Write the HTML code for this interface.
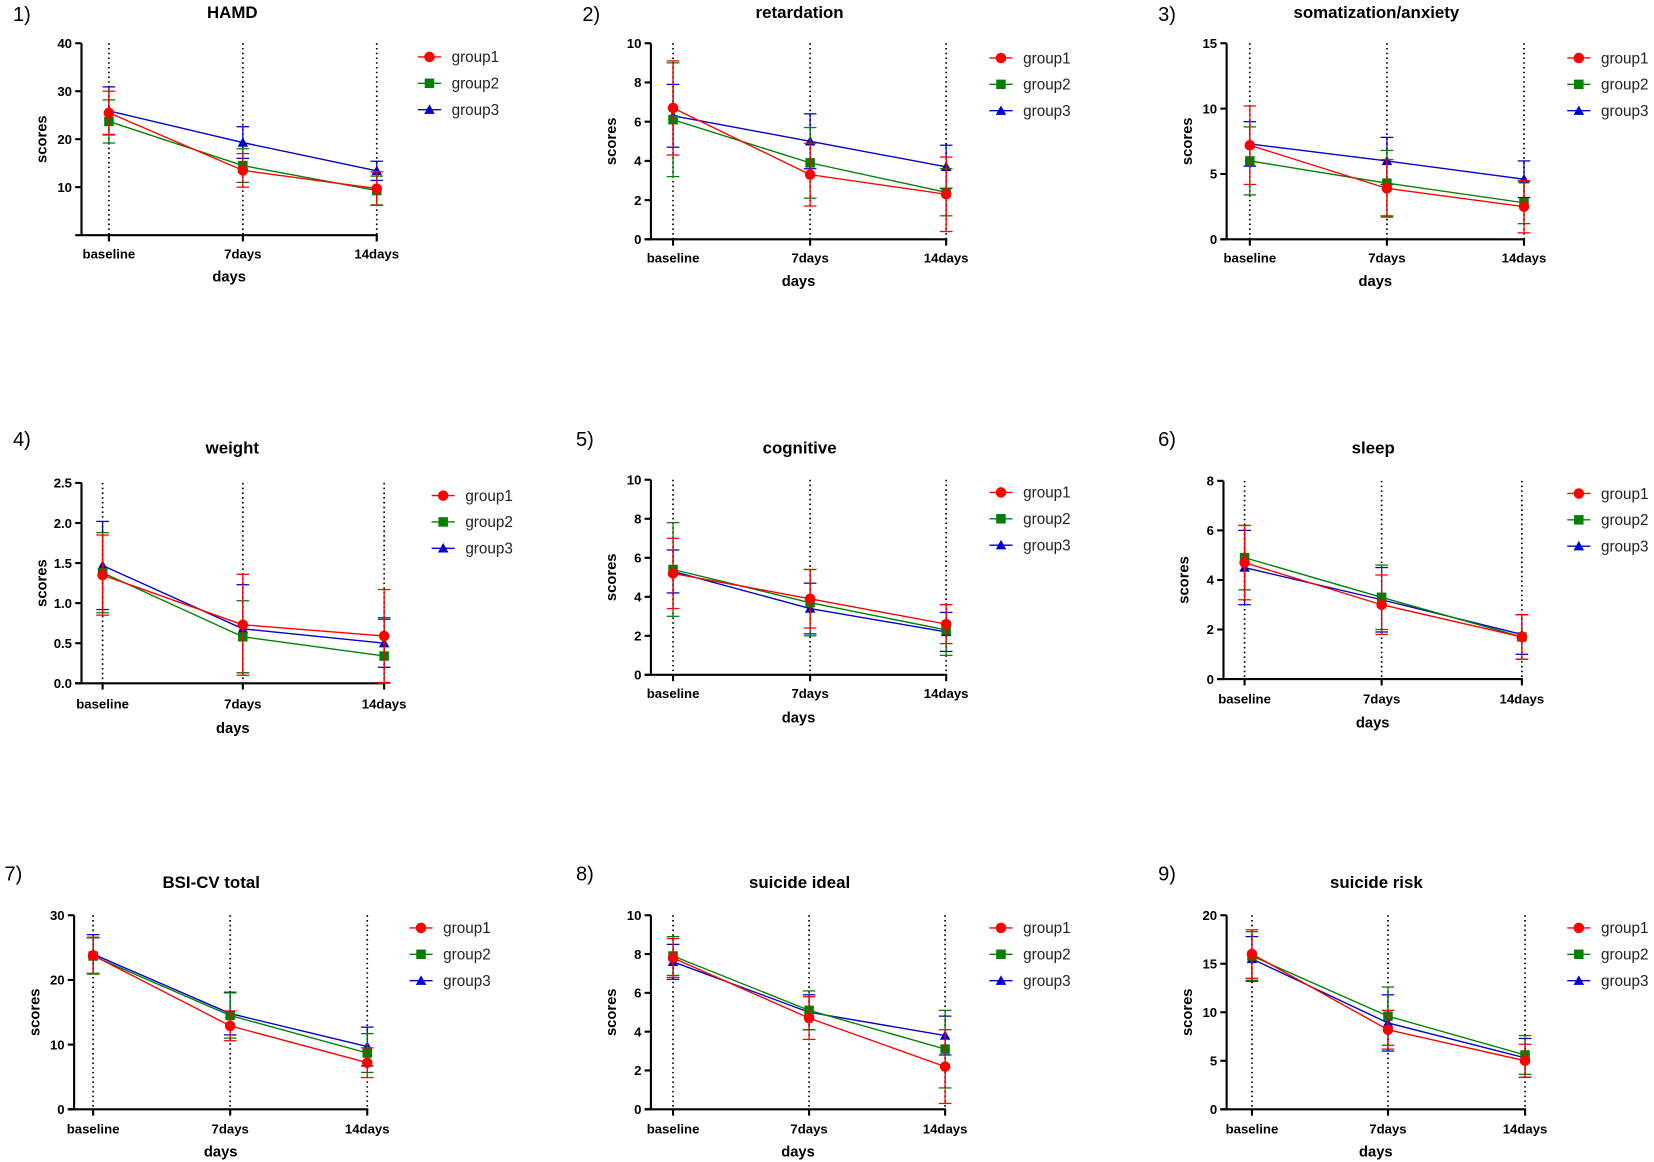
<!DOCTYPE html>
<html><head><meta charset="utf-8"><style>
html,body{margin:0;padding:0;background:#fff}
svg{display:block}
text{font-family:"Liberation Sans",Arial,sans-serif}
</style></head><body>
<svg id="fig" width="1654" height="1162" viewBox="0 0 1568 1102" xmlns="http://www.w3.org/2000/svg"></svg>
<script>
const categories = ["baseline","7days","14days"];
const groupNames = ["group1","group2","group3"];
const titles = ["HAMD","retardation","somatization/anxiety","weight","cognitive","sleep","BSI-CV total","suicide ideal","suicide risk"];
const yMaxes = [40,10,15,2.5,10,8,30,10,20];
const yTickSets = [[10,20,30,40],[0,2,4,6,8,10],[0,5,10,15],[0,0.5,1,1.5,2,2.5],[0,2,4,6,8,10],[0,2,4,6,8],[0,10,20,30],[0,2,4,6,8,10],[0,5,10,15,20]];
const means1 = [[25.5,13.5,9.7],[6.7,3.3,2.3],[7.2,3.9,2.5],[1.35,0.73,0.59],[5.2,3.9,2.6],[4.7,3.0,1.7],[23.8,12.9,7.2],[7.8,4.7,2.2],[16.0,8.2,5.0]];
const errs1  = [[4.5,3.5,3.5],[2.4,1.6,1.9],[3,2.2,2],[0.5,0.63,0.58],[1.8,1.5,1.0],[1.5,1.2,0.9],[2.8,2.3,2.3],[1.0,1.1,1.9],[2.5,2.0,1.7]];
const means2 = [[23.7,14.5,9.3],[6.1,3.9,2.4],[6.0,4.3,2.8],[1.38,0.58,0.34],[5.4,3.7,2.3],[4.9,3.3,1.7],[23.7,14.5,8.7],[7.9,5.1,3.1],[15.8,9.6,5.6]];
const errs2  = [[4.5,3.5,3],[2.9,1.8,1.2],[2.6,2.5,1.6],[0.5,0.45,0.48],[2.4,1.7,1.3],[1.3,1.3,0.9],[2.8,3.5,3],[1.0,1.0,2.0],[2.5,3,2]];
const means3 = [[25.9,19.3,13.4],[6.3,5.0,3.7],[7.3,6.0,4.6],[1.47,0.68,0.5],[5.3,3.4,2.2],[4.5,3.2,1.8],[24.0,14.8,9.7],[7.6,5.0,3.8],[15.5,8.9,5.3]];
const errs3  = [[5,3.3,2],[1.6,1.4,1.1],[1.7,1.8,1.4],[0.55,0.55,0.3],[1.1,1.3,1.0],[1.5,1.3,0.8],[3,3.3,3],[0.9,0.9,1.0],[2.3,2.9,2]];

const layouts=[
 {ax:77,top:41,bot:223,xs:[103,230,357],lab:241,days:262,tx:220,ty:17,nx:12,ny:20,lm:407,ly:54},
 {ax:617,top:41,bot:227,xs:[638,768,897],lab:245,days:266,tx:758,ty:17,nx:552,ny:20,lm:949,ly:55},
 {ax:1163,top:41,bot:227,xs:[1185,1315,1445],lab:245,days:266,tx:1305,ty:17,nx:1098,ny:20,lm:1497,ly:55},
 {ax:77,top:458,bot:648,xs:[97,230,364],lab:668,days:690,tx:220,ty:430,nx:12,ny:423,lm:420,ly:470},
 {ax:617,top:455,bot:640,xs:[638,768,897],lab:658,days:680,tx:758,ty:430,nx:546,ny:423,lm:949,ly:467},
 {ax:1160,top:456,bot:644,xs:[1180,1310,1443],lab:663,days:685,tx:1302,ty:430,nx:1098,ny:423,lm:1497,ly:468},
 {ax:70,top:868,bot:1052,xs:[88,218,348],lab:1071,days:1092,tx:200,ty:842,nx:4,ny:835,lm:399,ly:880},
 {ax:617,top:868,bot:1052,xs:[638,767,896],lab:1071,days:1092,tx:758,ty:842,nx:546,ny:835,lm:949,ly:880},
 {ax:1163,top:868,bot:1052,xs:[1187,1316,1446],lab:1071,days:1092,tx:1305,ty:842,nx:1098,ny:835,lm:1497,ly:880}
];
const colors=["#ff0000","#008000","#0000cc"];
const svg=document.getElementById('fig');
const NS="http://www.w3.org/2000/svg";
function mk(tag,attrs,parent,txt){const e=document.createElementNS(NS,tag);for(const k in attrs)e.setAttribute(k,attrs[k]);if(txt!==undefined)e.textContent=txt;parent.appendChild(e);return e;}
function marker(g,i,x,y,c){
  if(i===0)return mk('circle',{cx:x,cy:y,r:5,fill:c},g);
  if(i===1)return mk('rect',{x:x-4.5,y:y-4.5,width:9,height:9,fill:c},g);
  return mk('polygon',{points:`${x},${y-5} ${x+5},${y+4} ${x-5},${y+4}`,fill:c},g);
}
const allMeans=[means1,means2,means3], allErrs=[errs1,errs2,errs3];
layouts.forEach((L,p)=>{
  const g=mk('g',{},svg);
  
  
  const yS=v=>L.bot-(v/yMaxes[p])*(L.bot-L.top);
  const n=mk('text',{x:L.nx,y:L.ny,'font-size':19},g,(p+1)+')');
   
  const t=mk('text',{x:L.tx,y:L.ty,'font-size':16,'font-weight':'bold','text-anchor':'middle'},g,titles[p]);
   
  L.xs.forEach(x=>{mk('line',{x1:x,y1:L.top,x2:x,y2:L.bot,stroke:'#000','stroke-width':1.6,'stroke-dasharray':'1.5,3'},g);});
  const ya=mk('line',{x1:L.ax,y1:L.top,x2:L.ax,y2:L.bot,stroke:'#000','stroke-width':2},g);
   
  const xa=mk('line',{x1:L.ax-6,y1:L.bot,x2:L.xs[2]+1,y2:L.bot,stroke:'#000','stroke-width':2},g);
   
  yTickSets[p].forEach(v=>{
    const y=yS(v);
    mk('line',{x1:L.ax-6,y1:y,x2:L.ax,y2:y,stroke:'#000','stroke-width':2},g);
    const tl=mk('text',{x:L.ax-9,y:y+4.5,'font-size':12.5,'font-weight':'bold','text-anchor':'end'},g,p===3?v.toFixed(1):String(v));
     
  });
  categories.forEach((c,i)=>{
    mk('line',{x1:L.xs[i],y1:L.bot,x2:L.xs[i],y2:L.bot+6,stroke:'#000','stroke-width':2},g);
    const xl=mk('text',{x:L.xs[i],y:L.lab+4,'font-size':12.5,'font-weight':'bold','text-anchor':'middle'},g,c);
     
  });
  const dl=mk('text',{x:(L.ax+L.xs[2])/2,y:L.days+5,'font-size':14,'font-weight':'bold','text-anchor':'middle'},g,'days');
   
  const cy=(L.top+L.bot)/2;
  const sl=mk('text',{x:0,y:0,'font-size':14,'font-weight':'bold','text-anchor':'middle',transform:`translate(${L.ax-33},${cy}) rotate(-90)`},g,'scores');
   
  for(let s=2;s>=0;s--){
    const sg=mk('g',{},g);
     
    const m=allMeans[s][p], e=allErrs[s][p], c=colors[s];
    const pts=m.map((v,i)=>L.xs[i]+','+yS(v)).join(' ');
    mk('polyline',{points:pts,fill:'none',stroke:c,'stroke-width':1.3},sg);
    m.forEach((v,i)=>{
      const x=L.xs[i], hi=yS(v+e[i]), lo=yS(Math.max(0,v-e[i]));
      mk('line',{x1:x,y1:hi,x2:x,y2:lo,stroke:c,'stroke-width':1.2},sg);
      mk('line',{x1:x-6,y1:hi,x2:x+6,y2:hi,stroke:c,'stroke-width':1.2},sg);
      mk('line',{x1:x-6,y1:lo,x2:x+6,y2:lo,stroke:c,'stroke-width':1.2},sg);
      const mm=marker(sg,s,x,yS(v),c);
       
    });
  }
  for(let s=0;s<3;s++){
    const c=colors[s];
    const ly=L.ly+s*25;
    const le=mk('g',{},g);
     
    mk('line',{x1:L.lm-11,y1:ly,x2:L.lm+11,y2:ly,stroke:c,'stroke-width':1.3},le);
    marker(le,s,L.lm,ly,c);
    mk('text',{x:L.lm+21,y:ly+5,'font-size':14.5,fill:'#222'},le,groupNames[s]);
  }
});
</script>
</body></html>
